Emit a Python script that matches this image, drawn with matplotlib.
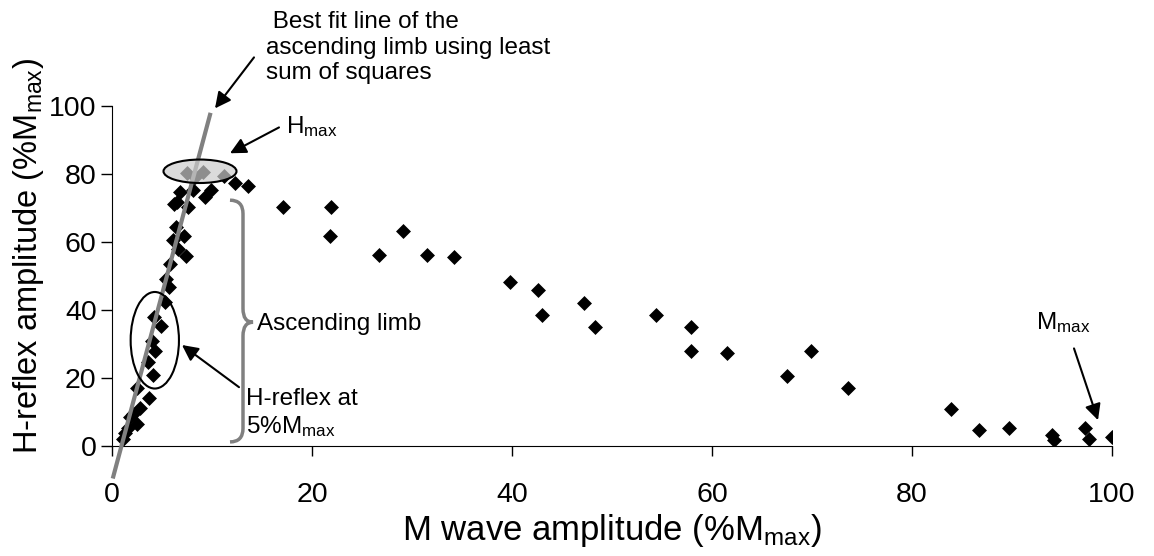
import numpy as np
import matplotlib
import matplotlib.pyplot as plt
from matplotlib.patches import Ellipse, PathPatch
from matplotlib.path import Path

matplotlib.use('agg')

plt.rcParams['font.family'] = ['Liberation Sans', 'DejaVu Sans']
plt.rcParams['mathtext.default'] = 'regular'

# M wave (%Mmax) and H-reflex (%Mmax)
m_wave = [1.1, 1.3, 1.6, 1.8, 2.1, 2.5, 2.8, 3.7, 2.5, 4.1, 3.6, 4.3, 4.0, 4.9,
          4.2, 5.3, 5.7, 5.4, 5.8, 7.4, 6.6, 6.1, 7.2, 6.4, 7.6, 6.2, 6.5, 6.8,
          8.1, 9.3, 9.9, 7.5, 8.3, 9.1, 11.2, 12.3, 13.6,
          17.1, 21.9, 21.8, 26.7, 29.1, 31.5, 34.2, 39.8, 42.6, 43.0, 47.2, 48.3,
          54.4, 57.9, 57.9, 61.5, 67.5, 69.9, 73.6, 83.9, 86.7, 89.7, 94.0, 94.2,
          97.3, 97.7, 100.0]
h_reflex = [2.0, 3.9, 5.4, 8.4, 9.3, 6.4, 11.3, 14.0, 17.2, 20.9, 24.6, 28.0, 31.0, 35.4,
            37.8, 42.3, 46.7, 49.2, 53.6, 55.8, 58.0, 60.5, 61.7, 64.4, 70.3, 71.3, 71.8, 74.7,
            75.2, 73.2, 75.2, 80.4, 79.1, 80.6, 79.4, 77.4, 76.4,
            70.3, 70.3, 61.7, 56.1, 63.3, 56.1, 55.7, 48.1, 45.9, 38.6, 42.0, 34.9,
            38.6, 34.9, 27.9, 27.3, 20.7, 27.9, 17.0, 10.8, 4.7, 5.4, 3.2, 1.8,
            5.4, 2.0, 2.7]

# least squares line of the ascending limb as drawn
fit_slope = 11.0
fit_intercept = -10.4
fit_x = [0.13, 9.8]

x_ticks = [0, 20, 40, 60, 80, 100]
y_ticks = [0, 20, 40, 60, 80, 100]

fig = plt.figure(figsize=(11.54, 5.56), dpi=100)
ax = fig.add_axes([112/1154, 110/556, 1000/1154, 340/556])

ax.scatter(m_wave, h_reflex, marker='D', s=58, c='black', lw=0, zorder=3)

fx = np.array(fit_x)
ax.plot(fx, fit_slope*fx + fit_intercept, color='#808080', lw=3, clip_on=False, zorder=4)

# Hmax ellipse (translucent grey) and 5% Mmax ellipse
ax.add_patch(Ellipse((8.8, 80.8), 7.3, 6.9, facecolor=(0.8, 0.8, 0.8, 0.7),
                     edgecolor='black', lw=1.5, zorder=5))
ax.add_patch(Ellipse((4.28, 31.1), 4.83, 28.4, facecolor='none',
                     edgecolor='black', lw=1.5, zorder=5))

# curly brace for the ascending limb
x0, x1, x2 = 11.8, 13.1, 14.1
yt, ym, yb = 72.3, 36.4, 1.2
r = 4.0
verts = [(x0, yt), (x1, yt), (x1, yt - r), (x1, ym + r), (x1, ym), (x2, ym),
         (x1, ym), (x1, ym - r), (x1, yb + r), (x1, yb), (x0, yb)]
codes = [Path.MOVETO, Path.CURVE3, Path.CURVE3, Path.LINETO, Path.CURVE3, Path.CURVE3,
         Path.CURVE3, Path.CURVE3, Path.LINETO, Path.CURVE3, Path.CURVE3]
ax.add_patch(PathPatch(Path(verts, codes), facecolor='none', edgecolor='#808080',
                       lw=2.5, clip_on=False))

ap = dict(arrowstyle='-|>', color='black', lw=1.5, mutation_scale=24, shrinkA=0, shrinkB=0)
fs = 17.5
ax.annotate('', xy=(10.3, 99.3), xytext=(14.2, 114.3), arrowprops=ap, annotation_clip=False)
ax.text(15.4, 127.9, ' Best fit line of the\nascending limb using least\nsum of squares',
        fontsize=fs, ha='left', va='top', linespacing=1.2)
ax.annotate('', xy=(11.8, 86.1), xytext=(16.7, 93.7), arrowprops=ap, annotation_clip=False)
ax.text(17.4, 92.0, 'H$_{max}$', fontsize=fs, ha='left', va='baseline')
ax.text(14.5, 34.1, 'Ascending limb', fontsize=fs, ha='left', va='baseline')
ax.annotate('', xy=(7.0, 29.7), xytext=(12.7, 17.3), arrowprops=ap, annotation_clip=False)
ax.text(13.4, 12.0, 'H-reflex at', fontsize=fs, ha='left', va='baseline')
ax.text(13.4, 3.8, '5%M$_{max}$', fontsize=fs, ha='left', va='baseline')
ax.annotate('', xy=(98.6, 7.6), xytext=(96.2, 28.7), arrowprops=ap, annotation_clip=False)
ax.text(92.4, 34.5, 'M$_{max}$', fontsize=fs, ha='left', va='baseline')

ax.set_xlim(0, 100)
ax.set_ylim(0, 100)
ax.set_xticks(x_ticks)
ax.set_yticks(y_ticks)
ax.spines['top'].set_visible(False)
ax.spines['right'].set_visible(False)
ax.tick_params(axis='x', direction='out', length=7, width=1, labelsize=20.5, pad=19)
ax.tick_params(axis='y', direction='out', length=8, width=1, labelsize=20.5, pad=3)
ax.set_xlabel('M wave amplitude (%M$_{max}$)', fontsize=25, labelpad=3)
ax.set_ylabel('H-reflex amplitude (%M$_{max}$)', fontsize=23.5)
ax.yaxis.set_label_coords(-0.066, 0.56)

plt.savefig('out.png', dpi=100)
plt.close()
